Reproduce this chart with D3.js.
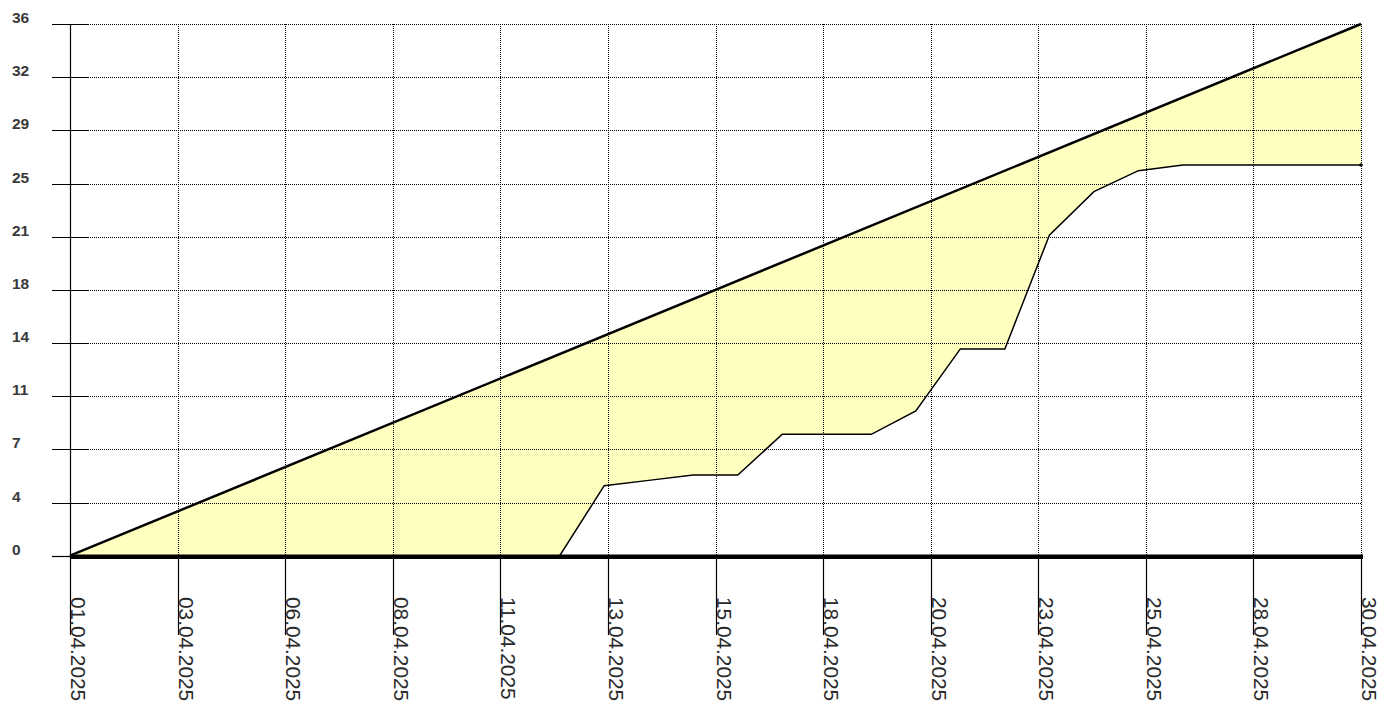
<!DOCTYPE html>
<html>
<head>
<meta charset="utf-8">
<script src="https://cdn.jsdelivr.net/npm/d3@7"></script>
<style>
  body { margin: 0; background: #fff; }
  svg { display: block; }
</style>
</head>
<body>
<div id="chart"></div>
<script>
var w = 1394;
var h = 708;

// ideal burndown line (start and end)
var idealDates = ['01.04.2025', '30.04.2025'];
var idealValues = [0, 36];

// actual progress, one value per day of April
var actualDays = [1, 2, 3, 4, 5, 6, 7, 8, 9, 10, 11, 12, 13, 14, 15,
                  16, 17, 18, 19, 20, 21, 22, 23, 24, 25, 26, 27, 28, 29, 30];
var actualValues = [0, 0, 0, 0, 0, 0, 0, 0, 0, 0, 0, 0, 4.74, 5.1, 5.46,
                    5.46, 8.22, 8.22, 8.22, 9.8, 14, 14, 21.7, 24.65, 26.07, 26.45, 26.45, 26.45, 26.45, 26.45];

// axis ticks
var yTickValues = [0, 3.6, 7.2, 10.8, 14.4, 18, 21.6, 25.2, 28.8, 32.4, 36];
var yTickLabels = ['0', '4', '7', '11', '14', '18', '21', '25', '29', '32', '36'];
var xTickLabels = ['01.04.2025', '03.04.2025', '06.04.2025', '08.04.2025', '11.04.2025', '13.04.2025',
                   '15.04.2025', '18.04.2025', '20.04.2025', '23.04.2025', '25.04.2025', '28.04.2025', '30.04.2025'];

var plotLeft = 70, plotRight = 1361, plotTop = 24, plotBottom = 555.7;

var parseDate = d3.timeParse('%d.%m.%Y');

var x = d3.scaleTime()
  .domain([parseDate('01.04.2025'), parseDate('30.04.2025')])
  .range([plotLeft, plotRight]);

var xTick = d3.scalePoint()
  .domain(xTickLabels)
  .range([plotLeft, plotRight]);

var y = d3.scaleLinear()
  .domain([0, 36])
  .range([plotBottom, plotTop]);

var ideal = idealDates.map(function(d, i) {
  return { date: parseDate(d), value: idealValues[i] };
});
var actual = actualDays.map(function(d, i) {
  return { date: new Date(2025, 3, d), value: actualValues[i] };
});

var svg = d3.select('#chart')
  .append('svg')
  .attr('width', w)
  .attr('height', h);

var line = d3.line()
  .x(function(d) { return x(d.date); })
  .y(function(d) { return y(d.value); });

// yellow band between ideal and actual
var band = ideal.concat(actual.slice().reverse());
svg.append('path')
  .attr('d', line(band) + 'Z')
  .attr('fill', '#ffffc0')
  .attr('stroke', 'none');

// dotted grid
svg.selectAll('.hgrid')
  .data(yTickValues.slice(1))
  .enter()
  .append('line')
  .attr('class', 'hgrid')
  .attr('x1', plotLeft + 18)
  .attr('x2', plotRight)
  .attr('y1', function(d) { return Math.round(y(d)) + 0.5; })
  .attr('y2', function(d) { return Math.round(y(d)) + 0.5; })
  .attr('stroke', '#000')
  .attr('stroke-width', 1)
  .attr('stroke-dasharray', '1,1');

svg.selectAll('.vgrid')
  .data(xTickLabels.slice(1))
  .enter()
  .append('line')
  .attr('class', 'vgrid')
  .attr('x1', function(d) { return Math.round(xTick(d)) + 0.5; })
  .attr('x2', function(d) { return Math.round(xTick(d)) + 0.5; })
  .attr('y1', plotTop)
  .attr('y2', plotBottom)
  .attr('stroke', '#000')
  .attr('stroke-width', 1)
  .attr('stroke-dasharray', '1,1');

// y axis: solid ticks crossing the axis line
svg.selectAll('.ytick')
  .data(yTickValues)
  .enter()
  .append('line')
  .attr('class', 'ytick')
  .attr('x1', plotLeft - 18)
  .attr('x2', function(d) { return d === 0 ? plotLeft : plotLeft + 18; })
  .attr('y1', function(d) { return Math.round(y(d)) + 0.5; })
  .attr('y2', function(d) { return Math.round(y(d)) + 0.5; })
  .attr('stroke', '#000')
  .attr('stroke-width', 1.2);

svg.selectAll('.ylabel')
  .data(yTickValues)
  .enter()
  .append('text')
  .attr('class', 'ylabel')
  .attr('x', 12)
  .attr('y', function(d) { return y(d) - 1; })
  .attr('font-family', '"Liberation Sans", Arial, sans-serif')
  .attr('font-size', '15.5px')
  .attr('font-weight', 'bold')
  .attr('fill', '#3a3a3a')
  .text(function(d, i) { return yTickLabels[i]; });

// x axis ticks below the axis
svg.selectAll('.xtick')
  .data(xTickLabels)
  .enter()
  .append('line')
  .attr('class', 'xtick')
  .attr('x1', function(d) { return Math.round(xTick(d)) + 0.5; })
  .attr('x2', function(d) { return Math.round(xTick(d)) + 0.5; })
  .attr('y1', function(d, i) { return i === 0 ? plotTop : plotBottom; })
  .attr('y2', 635)
  .attr('stroke', '#000')
  .attr('stroke-width', 1.2);

svg.selectAll('.xlabel')
  .data(xTickLabels)
  .enter()
  .append('text')
  .attr('class', 'xlabel')
  .attr('transform', function(d) { return 'translate(' + (xTick(d) + 1) + ',597) rotate(90)'; })
  .attr('font-family', '"Liberation Sans", Arial, sans-serif')
  .attr('font-size', '20.8px')
  .attr('fill', '#2a2a2a')
  .text(function(d) { return d; });

// thick zero line
svg.append('line')
  .attr('x1', plotLeft)
  .attr('x2', plotRight + 2)
  .attr('y1', y(0) + 1)
  .attr('y2', y(0) + 1)
  .attr('stroke', '#000')
  .attr('stroke-width', 4.5);

// ideal line
svg.append('path')
  .datum(ideal)
  .attr('d', line)
  .attr('fill', 'none')
  .attr('stroke', '#000')
  .attr('stroke-width', 2.5);

// actual line
svg.append('path')
  .datum(actual)
  .attr('d', line)
  .attr('fill', 'none')
  .attr('stroke', '#000')
  .attr('stroke-width', 1.5);

svg.append('circle')
  .datum(actual[actual.length - 1])
  .attr('cx', function(d) { return x(d.date); })
  .attr('cy', function(d) { return y(d.value); })
  .attr('r', 1.8)
  .attr('fill', '#000');
</script>
</body>
</html>
